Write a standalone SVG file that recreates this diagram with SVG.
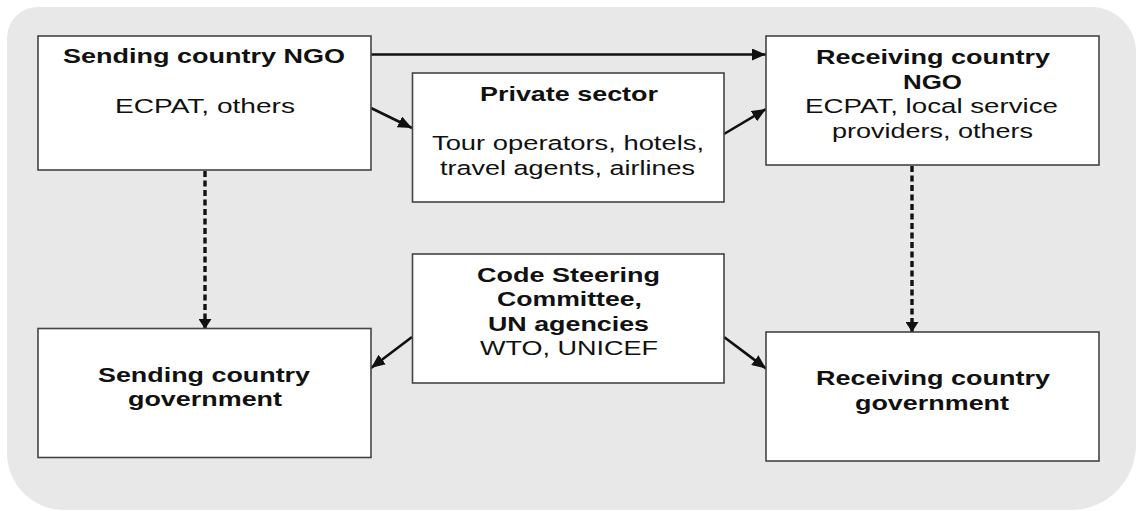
<svg xmlns="http://www.w3.org/2000/svg" width="1136" height="511" viewBox="0 0 1136 511">
  <style>
    .box { fill: #ffffff; stroke: #444444; stroke-width: 1.6; }
    .t { font-family: "Liberation Sans", Arial, sans-serif; font-size: 20.5px; fill: #111111; }
    .b { font-weight: bold; }
    .link { fill: none; stroke: #111111; stroke-width: 2.6; }
    .dash { fill: none; stroke: #111111; stroke-width: 3.4; stroke-dasharray: 6 3.5; }
  </style>
  <defs>
    <marker id="arrow" markerUnits="userSpaceOnUse" markerWidth="14" markerHeight="12" refX="14" refY="6" orient="auto">
      <path d="M0,0 L14,6 L0,12 Z" fill="#111111"/>
    </marker>
    <marker id="arrowDash" markerUnits="userSpaceOnUse" markerWidth="10" markerHeight="13" refX="10" refY="6.5" orient="auto">
      <path d="M0,0 L10,6.5 L0,13 Z" fill="#111111"/>
    </marker>
  </defs>

  <rect x="0" y="0" width="1136" height="511" fill="#ffffff"/>
  <!-- grey rounded panel behind the chart -->
  <path d="M38,7 H1091 A45,45 0 0 1 1136,52 V445 A65,65 0 0 1 1071,510 H64 A57,57 0 0 1 7,453 V38 A31,31 0 0 1 38,7 Z" fill="#e8e8e8"/>

  <g id="connectors">
    <line class="link" x1="371" y1="54.5" x2="766" y2="54.5" marker-end="url(#arrow)"/>
    <line class="link" x1="371" y1="108" x2="412" y2="128" marker-end="url(#arrow)"/>
    <line class="link" x1="724" y1="134" x2="766" y2="109" marker-end="url(#arrow)"/>
    <line class="dash" x1="205" y1="171" x2="205" y2="329" marker-end="url(#arrowDash)"/>
    <line class="dash" x1="912" y1="166" x2="912" y2="332" marker-end="url(#arrowDash)"/>
    <line class="link" x1="412" y1="337" x2="371" y2="368" marker-end="url(#arrow)"/>
    <line class="link" x1="724" y1="337" x2="766" y2="368.5" marker-end="url(#arrow)"/>
  </g>

  <g id="sending-ngo">
    <rect class="box" x="38" y="36" width="333" height="134"/>
    <text class="t b" x="63" y="63" textLength="282" lengthAdjust="spacingAndGlyphs">Sending country NGO</text>
    <text class="t" x="115" y="113" textLength="180" lengthAdjust="spacingAndGlyphs">ECPAT, others</text>
  </g>

  <g id="private-sector">
    <rect class="box" x="412.5" y="73" width="311.5" height="129"/>
    <text class="t b" x="480" y="101" textLength="178" lengthAdjust="spacingAndGlyphs">Private sector</text>
    <text class="t" x="432" y="150" textLength="272" lengthAdjust="spacingAndGlyphs">Tour operators, hotels,</text>
    <text class="t" x="440" y="175" textLength="255" lengthAdjust="spacingAndGlyphs">travel agents, airlines</text>
  </g>

  <g id="receiving-ngo">
    <rect class="box" x="766" y="36" width="333" height="129"/>
    <text class="t b" x="816" y="64" textLength="234" lengthAdjust="spacingAndGlyphs">Receiving country</text>
    <text class="t b" x="903" y="88.5" textLength="59" lengthAdjust="spacingAndGlyphs">NGO</text>
    <text class="t" x="805" y="113" textLength="253" lengthAdjust="spacingAndGlyphs">ECPAT, local service</text>
    <text class="t" x="832" y="137.5" textLength="201" lengthAdjust="spacingAndGlyphs">providers, others</text>
  </g>

  <g id="sending-government">
    <rect class="box" x="38" y="328.5" width="333" height="129"/>
    <text class="t b" x="98" y="382" textLength="212" lengthAdjust="spacingAndGlyphs">Sending country</text>
    <text class="t b" x="128" y="406" textLength="154" lengthAdjust="spacingAndGlyphs">government</text>
  </g>

  <g id="code-steering-committee">
    <rect class="box" x="412.5" y="254" width="311.5" height="129"/>
    <text class="t b" x="477" y="282" textLength="183" lengthAdjust="spacingAndGlyphs">Code Steering</text>
    <text class="t b" x="497" y="305.5" textLength="145" lengthAdjust="spacingAndGlyphs">Committee,</text>
    <text class="t b" x="488" y="330.5" textLength="161" lengthAdjust="spacingAndGlyphs">UN agencies</text>
    <text class="t" x="480" y="355" textLength="178" lengthAdjust="spacingAndGlyphs">WTO, UNICEF</text>
  </g>

  <g id="receiving-government">
    <rect class="box" x="766" y="332" width="333" height="129"/>
    <text class="t b" x="816" y="385" textLength="234" lengthAdjust="spacingAndGlyphs">Receiving country</text>
    <text class="t b" x="855" y="409.5" textLength="154" lengthAdjust="spacingAndGlyphs">government</text>
  </g>
</svg>
